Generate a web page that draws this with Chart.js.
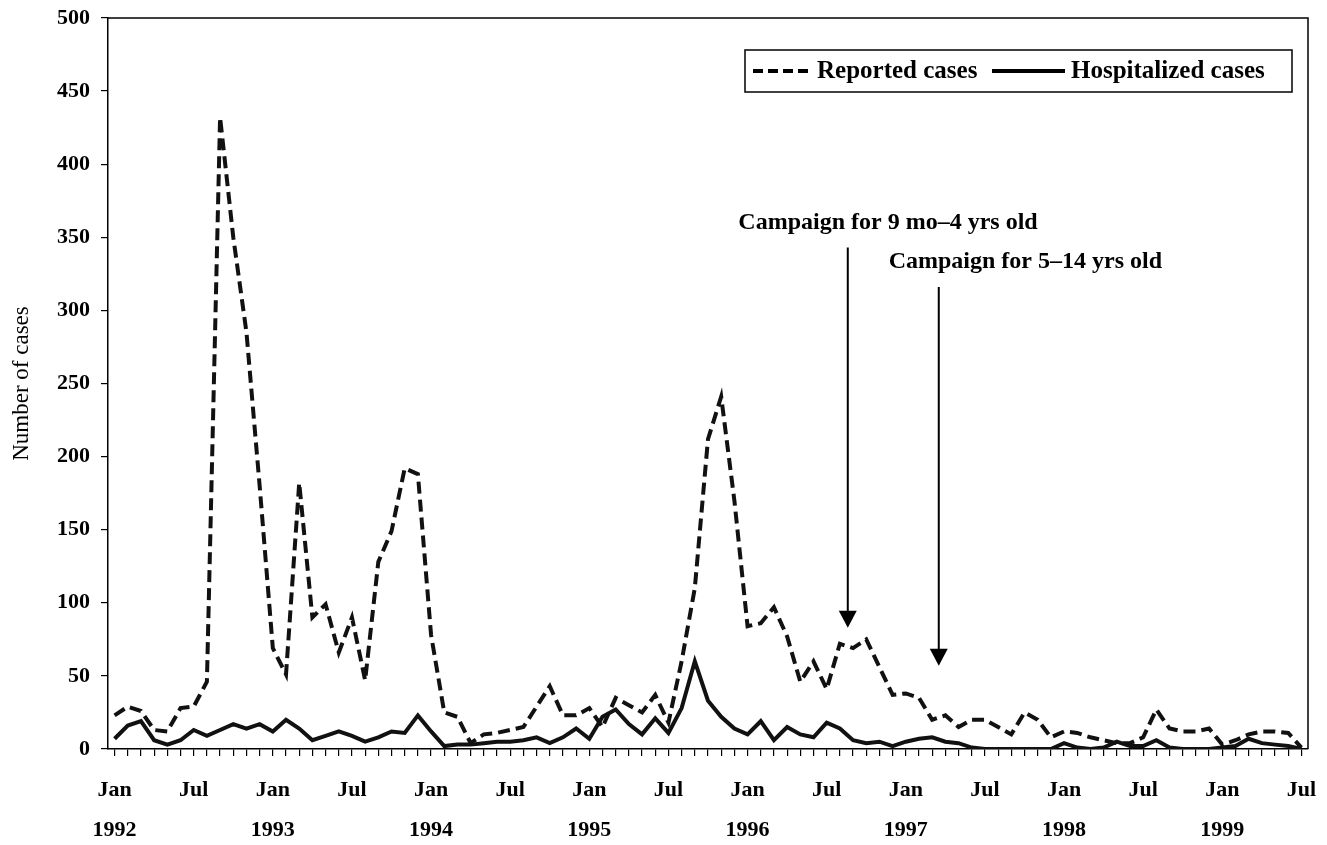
<!DOCTYPE html>
<html>
<head>
<meta charset="utf-8">
<script src="https://cdn.jsdelivr.net/npm/chart.js@4.4.0/dist/chart.umd.min.js"></script>
<style>
  html, body { margin: 0; padding: 0; background: #fff; }
  #wrap { width: 1327px; height: 845px; }
</style>
</head>
<body>
<div id="wrap"><canvas id="casesChart" width="1327" height="845"></canvas></div>
<script>
// monthly cases, Jan 1992 - Jul 1999
const years = [1992, 1993, 1994, 1995, 1996, 1997, 1998, 1999];
const monthNames = ['Jan', 'Feb', 'Mar', 'Apr', 'May', 'Jun', 'Jul', 'Aug', 'Sep', 'Oct', 'Nov', 'Dec'];

const reported = [
    23, 29, 26, 13, 12, 28, 29, 46, 432, 350, 285, 180,   // 1992
    69, 51, 182, 90, 99, 66, 90, 47, 128, 149, 192, 188,  // 1993
    78, 25, 22, 4, 10, 11, 13, 15, 29, 43, 23, 23,        // 1994
    28, 15, 35, 30, 25, 37, 18, 60, 110, 212, 241, 170,   // 1995
    84, 86, 97, 77, 46, 60, 41, 72, 69, 75, 56, 37,       // 1996
    38, 35, 20, 23, 15, 20, 20, 15, 10, 25, 20, 8,        // 1997
    12, 11, 8, 6, 4, 4, 8, 27, 14, 12, 12, 14,            // 1998
    3, 6, 10, 12, 12, 11, 1                               // 1999
];

const hospitalized = [
    7, 16, 19, 6, 3, 6, 13, 9, 13, 17, 14, 17,
    12, 20, 14, 6, 9, 12, 9, 5, 8, 12, 11, 23,
    12, 2, 3, 3, 4, 5, 5, 6, 8, 4, 8, 14,
    7, 22, 27, 17, 10, 21, 11, 28, 60, 33, 22, 14,
    10, 19, 6, 15, 10, 8, 18, 14, 6, 4, 5, 2,
    5, 7, 8, 5, 4, 1, 0, 0, 0, 0, 0, 0,
    4, 1, 0, 1, 5, 2, 2, 6, 1, 0, 0, 0,
    1, 2, 7, 4, 3, 2, 0
];

const yTicks = [0, 50, 100, 150, 200, 250, 300, 350, 400, 450, 500];

// campaign notes: month index of arrow, month index where text starts
const campaignText = ['Campaign for 9 mo\u20134 yrs old', 'Campaign for 5\u201314 yrs old'];
const campaignMonth = [55.6, 62.5];
const campaignTextMonth = [47.3, 58.7];
const campaignTextValue = [360, 333];
const campaignArrowFrom = [343, 316];
const campaignArrowTo = [83, 57];

// labels like "Jan 1992"
const labels = [];
for (let i = 0; i < reported.length; i++) {
    labels.push(monthNames[i % 12] + ' ' + years[Math.floor(i / 12)]);
}

const serif = "'Liberation Serif', 'Times New Roman', serif";

const framePlugin = {
    id: 'frame',
    afterDraw(chart) {
        const { ctx, chartArea: a } = chart;
        ctx.save();
        ctx.strokeStyle = '#000';
        ctx.lineWidth = 1.5;
        ctx.beginPath();
        ctx.moveTo(a.left, a.top);
        ctx.lineTo(a.right, a.top);
        ctx.lineTo(a.right, a.bottom);
        ctx.stroke();
        ctx.restore();
    }
};

const notesPlugin = {
    id: 'notes',
    afterDraw(chart) {
        const { ctx } = chart;
        const xs = chart.scales.x, ys = chart.scales.y;
        ctx.save();
        ctx.fillStyle = '#000';
        ctx.strokeStyle = '#000';
        ctx.font = 'bold 24px ' + serif;
        ctx.textBaseline = 'middle';
        ctx.textAlign = 'left';
        for (let k = 0; k < campaignText.length; k++) {
            ctx.fillText(campaignText[k], xs.getPixelForValue(campaignTextMonth[k]), ys.getPixelForValue(campaignTextValue[k]));
            const x = xs.getPixelForValue(campaignMonth[k]);
            const y0 = ys.getPixelForValue(campaignArrowFrom[k]);
            const y1 = ys.getPixelForValue(campaignArrowTo[k]);
            ctx.lineWidth = 2;
            ctx.beginPath();
            ctx.moveTo(x, y0);
            ctx.lineTo(x, y1 - 15);
            ctx.stroke();
            ctx.beginPath();
            ctx.moveTo(x - 9, y1 - 17);
            ctx.lineTo(x + 9, y1 - 17);
            ctx.lineTo(x, y1);
            ctx.closePath();
            ctx.fill();
        }

        // legend box
        const a = chart.chartArea;
        const bx = a.left + 637, by = a.top + 32, bw = 547, bh = 42;
        ctx.fillStyle = '#fff';
        ctx.fillRect(bx, by, bw, bh);
        ctx.lineWidth = 1.5;
        ctx.strokeRect(bx, by, bw, bh);
        const cy = by + bh / 2;
        ctx.lineWidth = 4;
        ctx.setLineDash([10, 5]);
        ctx.beginPath();
        ctx.moveTo(bx + 8, cy);
        ctx.lineTo(bx + 67, cy);
        ctx.stroke();
        ctx.setLineDash([]);
        ctx.beginPath();
        ctx.moveTo(bx + 247, cy);
        ctx.lineTo(bx + 320, cy);
        ctx.stroke();
        ctx.fillStyle = '#000';
        ctx.font = 'bold 25px ' + serif;
        ctx.fillText(chart.data.datasets[1].label, bx + 72, cy + 1);
        ctx.fillText(chart.data.datasets[0].label, bx + 326, cy + 1);
        ctx.restore();
    }
};

const ctx = document.getElementById('casesChart').getContext('2d');
const casesChart = new Chart(ctx, {
    type: 'line',
    data: {
        labels: labels,
        datasets: [{
            label: 'Hospitalized cases',
            data: hospitalized,
            borderColor: '#111',
            borderWidth: 4,
            pointRadius: 0,
            tension: 0,
            fill: false
        }, {
            label: 'Reported cases',
            data: reported,
            borderColor: '#111',
            borderWidth: 4,
            borderDash: [12, 6],
            pointRadius: 0,
            tension: 0,
            fill: false
        }]
    },
    options: {
        responsive: false,
        animation: false,
        devicePixelRatio: 1,
        layout: { padding: { top: 18, right: 19, left: 0, bottom: 0 } },
        plugins: {
            legend: { display: false },
            tooltip: { enabled: false }
        },
        scales: {
            x: {
                type: 'category',
                offset: true,
                grid: { drawOnChartArea: false, drawTicks: true, tickLength: 7, color: '#000', lineWidth: 1.2, offset: false },
                border: { color: '#000', width: 1.5 },
                ticks: {
                    autoSkip: false,
                    maxRotation: 0,
                    minRotation: 0,
                    padding: 14,
                    color: '#000',
                    font: { family: serif, size: 22, weight: 'bold', lineHeight: '40px' },
                    callback: function (val, idx) {
                        if (idx % 6 !== 0) return '';
                        const m = idx % 12;
                        return [monthNames[m], m === 0 ? String(years[Math.floor(idx / 12)]) : ''];
                    }
                },
                afterFit: s => { s.height = 96; s.paddingLeft = 0; s.paddingRight = 0; }
            },
            y: {
                min: 0,
                max: 500,
                afterBuildTicks: axis => { axis.ticks = yTicks.map(v => ({ value: v })); },
                grid: { drawOnChartArea: false, drawTicks: true, tickLength: 7, color: '#000', lineWidth: 1.2 },
                border: { color: '#000', width: 1.5 },
                ticks: {
                    padding: 11,
                    color: '#000',
                    font: { family: serif, size: 22, weight: 'bold' }
                },
                title: {
                    display: true,
                    text: 'Number of cases',
                    color: '#000',
                    font: { family: serif, size: 23 },
                    padding: { top: 8, bottom: 0 }
                },
                afterFit: s => { s.width = 108; s.paddingTop = 0; s.paddingBottom = 0; }
            }
        }
    },
    plugins: [framePlugin, notesPlugin]
});
</script>
</body>
</html>
